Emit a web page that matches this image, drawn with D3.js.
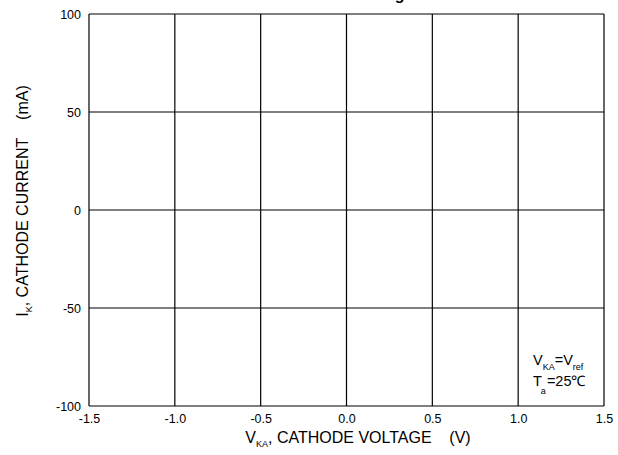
<!DOCTYPE html>
<html>
<head>
<meta charset="utf-8">
<script src="https://cdn.jsdelivr.net/npm/d3@7"></script>
<style>
  body { margin: 0; background: #fff; }
  svg { font-family: "Liberation Sans", Arial, sans-serif; }
</style>
</head>
<body>
<svg id="chart" width="618" height="455"></svg>
<script>
const xTicks = [-1.5, -1.0, -0.5, 0.0, 0.5, 1.0, 1.5]
const yTicks = [-100, -50, 0, 50, 100]
const xDomain = [-1.5, 1.5]
const yDomain = [-100, 100]
const titleText = 'Cathode Voltage'

const margin = { top: 14, right: 14, bottom: 49, left: 89 }
const W = 618
const H = 455

const svg = d3.select('#chart')
const x = d3.scaleLinear().domain(xDomain).range([margin.left, W - margin.right])
const y = d3.scaleLinear().domain(yDomain).range([H - margin.bottom, margin.top])

// plain hyphen for negatives, like the original
const hyph = f => d => f(d).replace('\u2212', '-')

/* grid */
svg.append('g').selectAll('line.vgrid')
  .data(xTicks).enter().append('line').attr('class', 'vgrid')
  .attr('x1', d => x(d)).attr('x2', d => x(d))
  .attr('y1', y(yDomain[0])).attr('y2', y(yDomain[1]))
  .attr('stroke', '#000').attr('stroke-width', 1.2)
svg.append('g').selectAll('line.hgrid')
  .data(yTicks).enter().append('line').attr('class', 'hgrid')
  .attr('y1', d => y(d)).attr('y2', d => y(d))
  .attr('x1', x(xDomain[0])).attr('x2', x(xDomain[1]))
  .attr('stroke', '#000').attr('stroke-width', 1.2)

/* axes */
const xAxis = svg.append('g')
  .attr('transform', `translate(0,${y(yDomain[0])})`)
  .call(d3.axisBottom(x).tickValues(xTicks).tickFormat(hyph(d3.format('.1f'))).tickSize(0).tickPadding(8))
const yAxis = svg.append('g')
  .attr('transform', `translate(${x(xDomain[0])},0)`)
  .call(d3.axisLeft(y).tickValues(yTicks).tickFormat(hyph(d3.format('d'))).tickSize(0).tickPadding(8))
for (const a of [xAxis, yAxis]) {
  a.select('.domain').remove()
  a.selectAll('text').attr('font-size', 12.5).attr('font-family', '"Liberation Sans", Arial, sans-serif').attr('fill', '#000')
}

/* title, mostly cut off at the top edge */
svg.append('text')
  .attr('x', 351).attr('y', -0.5)
  .attr('text-anchor', 'middle')
  .attr('font-size', 16).attr('font-weight', 'bold')
  .text(titleText)

/* axis titles */
const xl = svg.append('text')
  .attr('x', 358).attr('y', 443)
  .attr('text-anchor', 'middle').attr('font-size', 16)
xl.append('tspan').text('V')
xl.append('tspan').attr('font-size', 9).attr('dy', 4).text('KA')
xl.append('tspan').attr('dy', -4).text(', CATHODE VOLTAGE\u00a0\u00a0\u00a0\u00a0(V)')

const yl = svg.append('text')
  .attr('transform', 'translate(28,201) rotate(-90)')
  .attr('text-anchor', 'middle').attr('font-size', 16)
yl.append('tspan').text('I')
yl.append('tspan').attr('font-size', 9).attr('dy', 4).text('K')
yl.append('tspan').attr('dy', -4).text(', CATHODE CURRENT\u00a0\u00a0\u00a0\u00a0(mA)')

/* condition note */
const n1 = svg.append('text').attr('x', 533).attr('y', 365).attr('font-size', 14.5)
n1.append('tspan').text('V')
n1.append('tspan').attr('font-size', 9).attr('dy', 5).text('KA')
n1.append('tspan').attr('dy', -5).text('=V')
n1.append('tspan').attr('font-size', 9).attr('dy', 5).text('ref')
const n2 = svg.append('text').attr('x', 533).attr('y', 386).attr('font-size', 14.5)
n2.append('tspan').text('T')
n2.append('tspan').attr('font-size', 9).attr('dx', -1).attr('dy', 8).text('a')
n2.append('tspan').attr('dx', 1).attr('dy', -8).text('=25\u2103')
</script>
</body>
</html>
